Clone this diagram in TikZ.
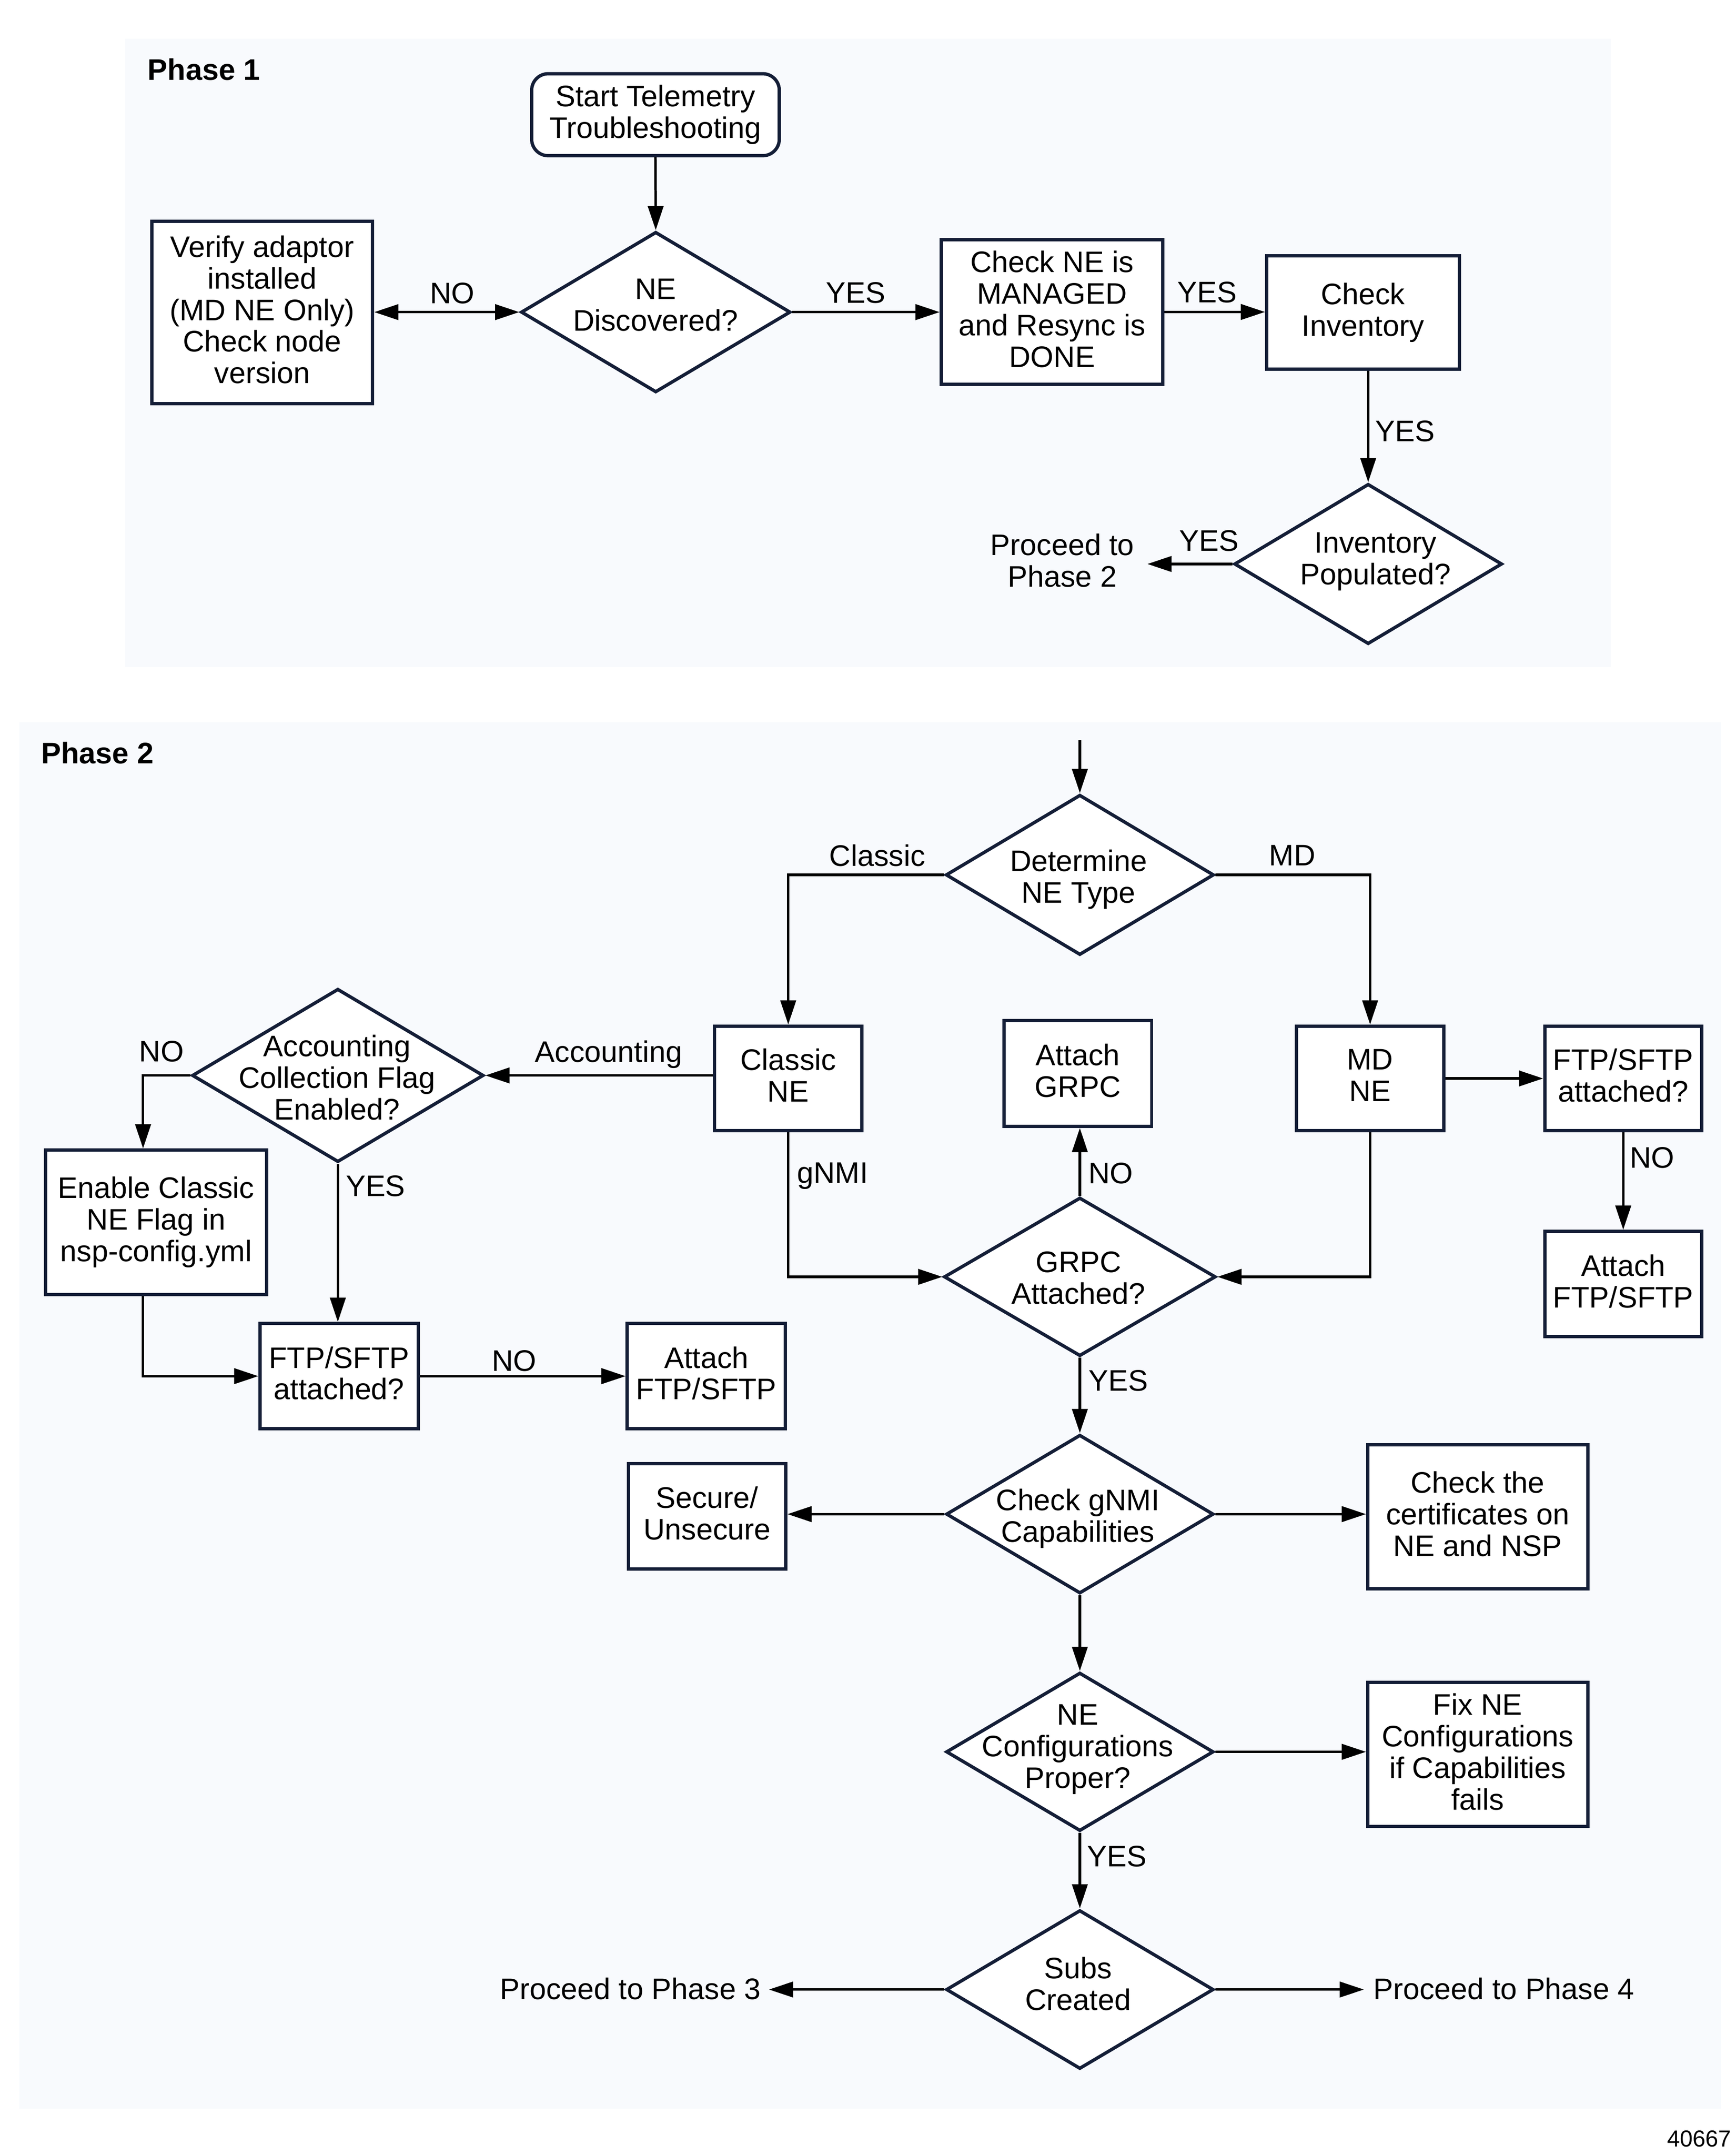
\documentclass[tikz,border=0pt]{standalone}
\usepackage{fontspec}
\setmainfont{Liberation Sans}
\usetikzlibrary{shapes.geometric,arrows.meta}
\definecolor{navy}{RGB}{20,30,55}
\definecolor{bgc}{RGB}{248,250,253}
\newcommand\mainf{\fontsize{10.8pt}{11.5pt}\selectfont}
\begin{document}
\begin{tikzpicture}[x=0.5pt,y=-0.5pt,
  wh/.style 2 args={minimum width=#1*0.5pt,minimum height=#2*0.5pt},
  txt/.style={align=center,inner sep=0pt,font=\mainf,
    execute at begin node=\vphantom{Ag},execute at end node=\vphantom{g}},
  box/.style={txt,draw=navy,line width=1.2pt,fill=white,
    execute at begin node=\rule{0pt}{10pt}},
  dia/.style={diamond,draw=navy,line width=1.2pt,fill=white,inner sep=0pt},
  arr/.style={line width=0.9pt,-{Triangle[length=8.8pt,width=5.6pt]}},
  arr2/.style={line width=0.9pt,{Triangle[length=8.8pt,width=5.6pt]}-{Triangle[length=8.8pt,width=5.6pt]}}]
\useasboundingbox (0,0) rectangle (1262,1566.6);
\fill[bgc] (91,28) rectangle (1171,485);
\fill[bgc] (14,525) rectangle (1251,1533);

% ---------- Phase 1 ----------
\node[txt,anchor=west,font=\mainf\bfseries] (ph1) at (107,52.8) {Phase 1};
\node[box,rounded corners=6pt,wh={180}{59.6}] (start) at (476.5,83.4) {Start Telemetry\\Troubleshooting};
\node[dia,wh={196}{116.7}] (d1) at (476.7,226.9) {};
\node[txt] (d1t) at (476.6,224) {NE\\Discovered?};
\node[box,wh={160.5}{132.5}] (verify) at (190.6,227.25) {Verify adaptor\\installed\\(MD NE Only)\\Check node\\version};
\node[box,wh={161}{105}] (checkne) at (764.8,226.8) {Check NE is\\MANAGED\\and Resync is\\DONE};
\node[box,wh={140}{82.4}] (inv) at (990.8,227.3) {Check\\Inventory};
\node[dia,wh={194.8}{116.5}] (d2) at (994.6,410) {};
\node[txt] (d2t) at (1000,408.4) {Inventory\\Populated?};
\node[txt,anchor=east,inner xsep=4.6pt] (p2) at (834.1,409.7) {Proceed to\\Phase 2};

\node[txt] (lno1) at (328.7,215.3) {NO};
\node[txt] (lyes1) at (622,215) {YES};
\node[txt] (lyes2) at (877.4,214.8) {YES};
\node[txt] (lyes3) at (1021.5,315.7) {YES};
\node[txt] (lyes4) at (879,395.3) {YES};

\draw[arr] (start.south) -- (d1.north);
\draw[arr2] (verify.east |- d1.west) -- (d1.west);
\draw[arr] (d1.east) -- (d1.east -| checkne.west);
\draw[arr] (checkne.east) -- (checkne.east -| inv.west);
\draw[arr] (inv.south -| d2.north) -- (d2.north);
\draw[arr] (d2.west) -- (d2.west -| p2.east);

% ---------- Phase 2 ----------
\node[txt,anchor=west,font=\mainf\bfseries] (ph2) at (29.6,549.6) {Phase 2};
\coordinate (in2) at (785,538);
\node[dia,wh={195}{116.5}] (d3) at (785,636) {};
\node[txt] (d3t) at (784,639.3) {Determine\\NE Type};
\node[box,wh={107}{76}] (cne) at (573,784) {Classic\\NE};
\node[box,wh={107.4}{77}] (grpc) at (783.5,780.3) {Attach\\GRPC};
\node[box,wh={107}{76}] (mdne) at (996,784) {MD\\NE};
\node[box,wh={114}{76}] (ftpr) at (1180,784) {FTP/SFTP\\attached?};
\node[box,wh={114}{76.6}] (atr) at (1180,933.5) {Attach\\FTP/SFTP};
\node[dia,wh={197.6}{115.3}] (d5) at (785,928.2) {};
\node[txt] (d5t) at (784,931.2) {GRPC\\Attached?};
\node[dia,wh={212}{126}] (d4) at (245.6,781.8) {};
\node[txt] (d4t) at (245,785.5) {Accounting\\Collection Flag\\Enabled?};
\node[box,wh={161}{105}] (enable) at (113.5,888.6) {Enable Classic\\NE Flag in\\nsp-config.yml};
\node[box,wh={115}{76.4}] (ftpl) at (246.5,1000.4) {FTP/SFTP\\attached?};
\node[box,wh={115}{76.4}] (atl) at (513.5,1000.4) {Attach\\FTP/SFTP};
\node[dia,wh={194.5}{115.4}] (d6) at (785,1100.7) {};
\node[txt] (d6t) at (783.5,1103.9) {Check gNMI\\Capabilities};
\node[box,wh={114.5}{76.3}] (sec) at (514,1102.3) {Secure/\\Unsecure};
\node[box,wh={160}{104.7}] (cert) at (1074.2,1102.7) {Check the\\certificates on\\NE and NSP};
\node[dia,wh={194.5}{115.2}] (d7) at (785,1273.5) {};
\node[txt] (d7t) at (783.5,1271.9) {NE\\Configurations\\Proper?};
\node[box,wh={160}{104.7}] (fix) at (1074.2,1275.5) {Fix NE\\Configurations\\if Capabilities\\fails};
\node[dia,wh={194.5}{115.5}] (d8) at (785,1446.3) {};
\node[txt] (d8t) at (783.7,1444.3) {Subs\\Created};
\node[txt,anchor=east,inner xsep=2.75pt] (p3) at (559,1448) {Proceed to Phase 3};
\node[txt,anchor=west,inner xsep=3.25pt] (p4) at (991.5,1448) {Proceed to Phase 4};
\node[txt,anchor=east,font=\fontsize{8.4pt}{10pt}\selectfont] (fig) at (1259,1556.6) {40667};

\node[txt] (lclassic) at (637.8,624) {Classic};
\node[txt] (lmd) at (939.5,624) {MD};
\node[txt,anchor=west] (lgnmi) at (579,854.9) {gNMI};
\node[txt] (lno2) at (807.5,855) {NO};
\node[txt] (lno3) at (1201,843.7) {NO};
\node[txt] (lyes5) at (813,1006) {YES};
\node[txt] (lno4) at (117.5,766.5) {NO};
\node[txt] (lacc) at (442.5,766.5) {Accounting};
\node[txt] (lyes6) at (273,864.4) {YES};
\node[txt] (lno5) at (373.7,991.4) {NO};
\node[txt] (lyes7) at (812,1351.5) {YES};

\coordinate (enx) at (104,0);

\draw[arr] (in2) -- (d3.north);
\draw[arr] (d3.west) -| (cne.north);
\draw[arr] (d3.east) -| (mdne.north);
\draw[arr] (cne.west |- d4.east) -- (d4.east);
\draw[arr] (d4.west) -| (enx |- enable.north);
\draw[arr] (d4.south) -- (d4.south |- ftpl.north);
\draw[arr] (enx |- enable.south) |- (ftpl.west);
\draw[arr] (ftpl.east) -- (atl.west);
\draw[arr] (cne.south) |- (d5.west);
\draw[arr] (mdne.south) |- (d5.east);
\draw[arr] (d5.north) -- (d5.north |- grpc.south);
\draw[arr] (mdne.east) -- (ftpr.west);
\draw[arr] (ftpr.south) -- (atr.north);
\draw[arr] (d5.south) -- (d6.north);
\draw[arr] (d6.west) -- (d6.west -| sec.east);
\draw[arr] (d6.east) -- (d6.east -| cert.west);
\draw[arr] (d6.south) -- (d7.north);
\draw[arr] (d7.east) -- (d7.east -| fix.west);
\draw[arr] (d7.south) -- (d8.north);
\draw[arr] (d8.west) -- (d8.west -| p3.east);
\draw[arr] (d8.east) -- (d8.east -| p4.west);
\end{tikzpicture}
\end{document}
